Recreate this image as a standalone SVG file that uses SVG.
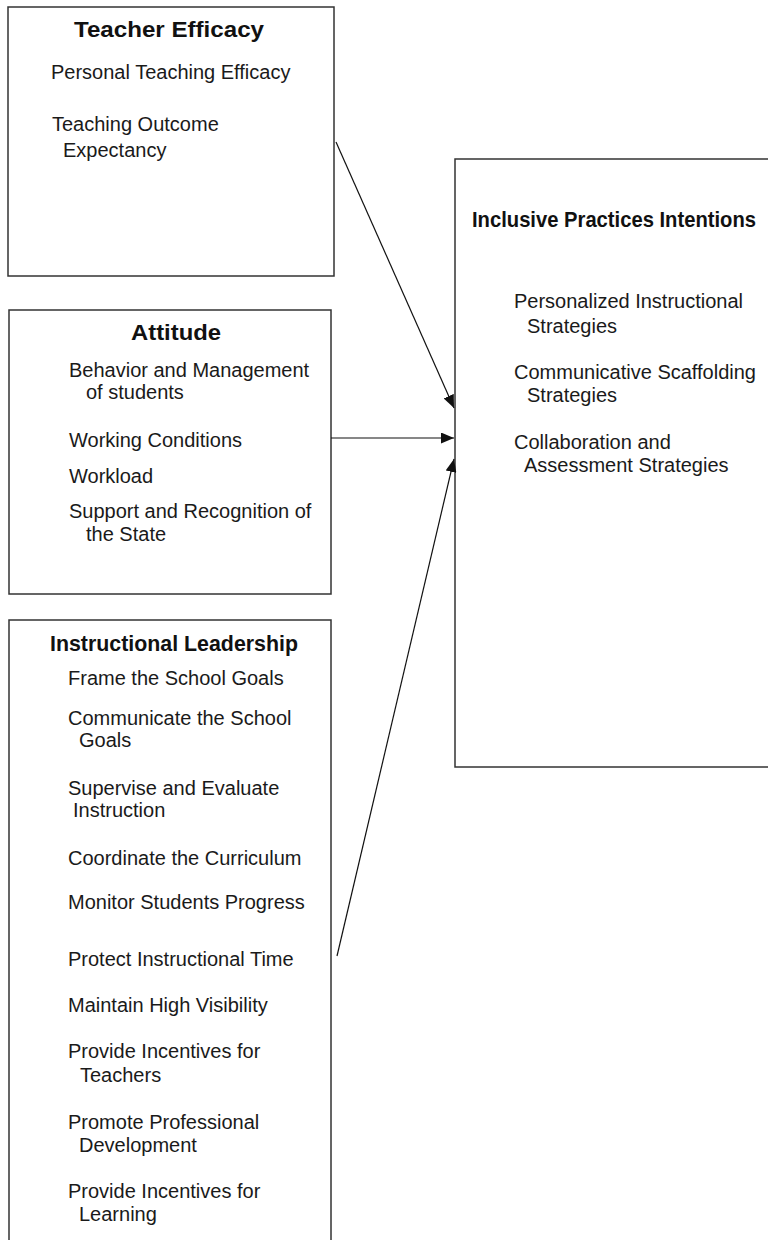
<svg xmlns="http://www.w3.org/2000/svg" width="768" height="1240" viewBox="0 0 768 1240">
<style>
.box{fill:#fff;stroke:#333;stroke-width:1.5}
.t{font-family:"Liberation Sans",Arial,sans-serif;font-size:20px;fill:#1a1a1a}
.h{font-family:"Liberation Sans",Arial,sans-serif;font-size:22px;font-weight:bold;fill:#111;text-anchor:middle}
.c{stroke:#111;stroke-width:1.2;fill:none;marker-end:url(#ah)}
</style>
<defs>
<marker id="ah" viewBox="0 0 10 10" refX="10" refY="5" markerWidth="13" markerHeight="11" preserveAspectRatio="none" markerUnits="userSpaceOnUse" orient="auto">
<path d="M0,0 L10,5 L0,10 z" fill="#111"/>
</marker>
</defs>
<rect width="768" height="1240" fill="#fff"/>
<g id="teacher-efficacy">
<rect class="box" x="8" y="7" width="326" height="269"/>
<text class="h" x="169" y="37" textLength="190" lengthAdjust="spacingAndGlyphs">Teacher Efficacy</text>
<text class="t" x="51" y="79">Personal Teaching Efficacy</text>
<text class="t" x="52" y="131">Teaching Outcome</text>
<text class="t" x="63" y="157">Expectancy</text>
</g>
<g id="attitude">
<rect class="box" x="9" y="310" width="322" height="284"/>
<text class="h" x="176" y="340" textLength="90" lengthAdjust="spacingAndGlyphs">Attitude</text>
<text class="t" x="69" y="377">Behavior and Management</text>
<text class="t" x="86" y="399">of students</text>
<text class="t" x="69" y="447">Working Conditions</text>
<text class="t" x="69" y="483">Workload</text>
<text class="t" x="69" y="518">Support and Recognition of</text>
<text class="t" x="86" y="541">the State</text>
</g>
<g id="instructional-leadership">
<rect class="box" x="9" y="620" width="322" height="640"/>
<text class="h" x="174" y="651" textLength="248" lengthAdjust="spacingAndGlyphs">Instructional  Leadership</text>
<text class="t" x="68" y="685">Frame the School Goals</text>
<text class="t" x="68" y="725">Communicate the School</text>
<text class="t" x="79" y="747">Goals</text>
<text class="t" x="68" y="795">Supervise and Evaluate</text>
<text class="t" x="73" y="817">Instruction</text>
<text class="t" x="68" y="865">Coordinate the Curriculum</text>
<text class="t" x="68" y="909">Monitor Students Progress</text>
<text class="t" x="68" y="966">Protect Instructional Time</text>
<text class="t" x="68" y="1012">Maintain High Visibility</text>
<text class="t" x="68" y="1058">Provide Incentives for</text>
<text class="t" x="80" y="1082">Teachers</text>
<text class="t" x="68" y="1129">Promote Professional</text>
<text class="t" x="79" y="1152">Development</text>
<text class="t" x="68" y="1198">Provide Incentives for</text>
<text class="t" x="79" y="1221">Learning</text>
</g>
<g id="inclusive-practices">
<rect class="box" x="455" y="159" width="330" height="608"/>
<text class="h" x="614" y="227" textLength="284" lengthAdjust="spacingAndGlyphs">Inclusive Practices Intentions</text>
<text class="t" x="514" y="308">Personalized Instructional</text>
<text class="t" x="527" y="333">Strategies</text>
<text class="t" x="514" y="379">Communicative Scaffolding</text>
<text class="t" x="527" y="402">Strategies</text>
<text class="t" x="514" y="449">Collaboration and</text>
<text class="t" x="524" y="472">Assessment Strategies</text>
</g>
<g id="connectors">
<line class="c" x1="336" y1="142" x2="454" y2="408"/>
<line class="c" x1="331" y1="438" x2="454" y2="438"/>
<line class="c" x1="337" y1="956" x2="454" y2="459"/>
</g>
</svg>
